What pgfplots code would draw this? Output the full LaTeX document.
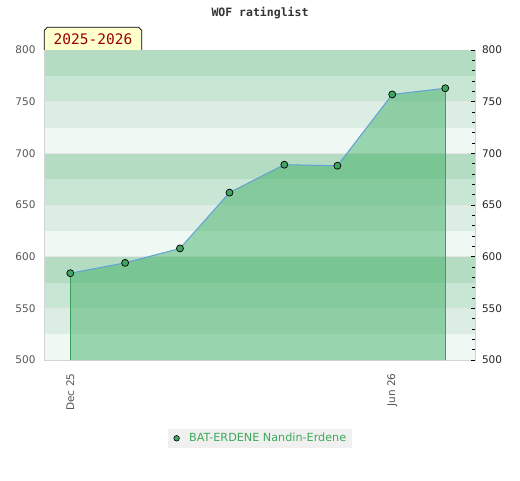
\documentclass[border=0pt]{standalone}
\usepackage{pgfplots}
\pgfplotsset{compat=1.18}
\usepackage{fontspec}
\setmainfont{DejaVu Sans}
\newfontfamily\monofont{DejaVu Sans Mono}
\definecolor{bandA}{HTML}{B3DCC3}
\definecolor{bandB}{HTML}{C8E6D4}
\definecolor{bandC}{HTML}{DCEEE3}
\definecolor{bandD}{HTML}{EFF8F2}
\definecolor{fillgreen}{HTML}{3BAD62}
\definecolor{edgegreen}{HTML}{3AA05A}
\definecolor{markgreen}{HTML}{3FA560}
\definecolor{lineblue}{HTML}{62A0D8}
\definecolor{axgray}{HTML}{D4D4D4}
\definecolor{labgray}{HTML}{555555}
\definecolor{legendgray}{HTML}{F0F0F0}
\definecolor{legendgreen}{HTML}{3DAA5A}
\definecolor{yeartext}{HTML}{990000}
\definecolor{yearbox}{HTML}{FFFFCC}
\pgfplotstableread{
day rating
0   584
31  594
62  608
90  662
121 689
151 688
182 757
212 763
}\ratings
\begin{document}
\begin{tikzpicture}[x=1pt,y=1pt]
\useasboundingbox (0,0) rectangle (520,480);
\node[font=\monofont\bfseries\fontsize{11.5}{13}\selectfont, text=black!80] at (260,466.5) {WOF ratinglist};
\begin{axis}[
  at={(45pt,120pt)}, anchor=south west,
  scale only axis, width=430pt, height=310pt,
  xmin=-14.3, xmax=228.8, ymin=500, ymax=800,
  axis line style={draw=axgray, line width=1pt},
  ytick={500,550,600,650,700,750,800},
  major tick length=0pt,
  yticklabel style={text=labgray, xshift=-6pt},
  xtick={0,182}, xticklabels={Dec 25, Jun 26},
  xticklabel style={rotate=90, anchor=east, text=labgray, xshift=-10pt},
  tick label style={font=\fontsize{10.5}{12}\selectfont},
  /pgf/number format/assume math mode=true,
  legend style={at={(0.5,-0.2526)}, anchor=center, fill=legendgray, draw=none,
    font=\fontsize{11.2}{13}\selectfont, text=legendgreen, inner xsep=4pt, inner ysep=2.5pt},
  legend image code/.code={\path (0cm,0cm) (0.5cm,0cm);
    \draw[mark=*, mark size=2.8pt, mark options={fill=markgreen, draw=black, line width=0.6pt}] plot coordinates {(0.15cm,0cm)};},
]
\fill[bandA] (axis cs:-14.3,775) rectangle (axis cs:228.8,800);
\fill[bandB] (axis cs:-14.3,750) rectangle (axis cs:228.8,775);
\fill[bandC] (axis cs:-14.3,725) rectangle (axis cs:228.8,750);
\fill[bandD] (axis cs:-14.3,700) rectangle (axis cs:228.8,725);
\fill[bandA] (axis cs:-14.3,675) rectangle (axis cs:228.8,700);
\fill[bandB] (axis cs:-14.3,650) rectangle (axis cs:228.8,675);
\fill[bandC] (axis cs:-14.3,625) rectangle (axis cs:228.8,650);
\fill[bandD] (axis cs:-14.3,600) rectangle (axis cs:228.8,625);
\fill[bandA] (axis cs:-14.3,575) rectangle (axis cs:228.8,600);
\fill[bandB] (axis cs:-14.3,550) rectangle (axis cs:228.8,575);
\fill[bandC] (axis cs:-14.3,525) rectangle (axis cs:228.8,550);
\fill[bandD] (axis cs:-14.3,500) rectangle (axis cs:228.8,525);
\draw[black!10, line width=0.8pt] (axis cs:-14.3,750) -- (axis cs:228.8,750);
\draw[black!10, line width=0.8pt] (axis cs:-14.3,700) -- (axis cs:228.8,700);
\draw[black!10, line width=0.8pt] (axis cs:-14.3,650) -- (axis cs:228.8,650);
\draw[black!10, line width=0.8pt] (axis cs:-14.3,600) -- (axis cs:228.8,600);
\draw[black!10, line width=0.8pt] (axis cs:-14.3,550) -- (axis cs:228.8,550);
\addplot[draw=none, fill=fillgreen, fill opacity=0.48, forget plot]
  coordinates {(0,500) (0,584) (31,594) (62,608) (90,662) (121,689) (151,688) (182,757) (212,763) (212,500)} -- cycle;
\addplot[edgegreen, line width=0.8pt, forget plot] coordinates {(0,500) (0,584)};
\addplot[edgegreen, line width=0.8pt, forget plot] coordinates {(212,500) (212,763)};
\addplot[lineblue, line width=1pt, mark=*, mark size=3.5pt,
  mark options={fill=markgreen, draw=black, line width=0.7pt}]
  table[x=day, y=rating] {\ratings};
\addlegendentry{BAT-ERDENE Nandin-Erdene}
\end{axis}
\begin{axis}[
  at={(45pt,120pt)}, anchor=south west,
  scale only axis, width=430pt, height=310pt,
  xmin=-14.3, xmax=228.8, ymin=500, ymax=800,
  axis x line=none, axis y line*=right,
  axis line style={draw=none},
  ytick={500,550,600,650,700,750,800},
  minor ytick={510,520,530,540,560,570,580,590,610,620,630,640,660,670,680,690,710,720,730,740,760,770,780,790},
  tick align=inside,
  major tick length=4.3pt, minor tick length=3pt,
  tick style={black, line width=0.6pt},
  yticklabel style={text=black!85, xshift=3.5pt},
  tick label style={font=\fontsize{10.5}{12}\selectfont},
  /pgf/number format/assume math mode=true,
]
\addplot[draw=none] coordinates {(0,500)};
\end{axis}
\draw[fill=yearbox, draw=black, line width=0.7pt] (44.3,430) -- (44.3,449.7) -- (47.3,452.7) -- (138.7,452.7) -- (141.7,449.7) -- (141.7,430);
\node[font=\monofont\fontsize{14.5}{16}\selectfont, text=yeartext] at (93,440.5) {2025-2026};
\end{tikzpicture}
\end{document}
